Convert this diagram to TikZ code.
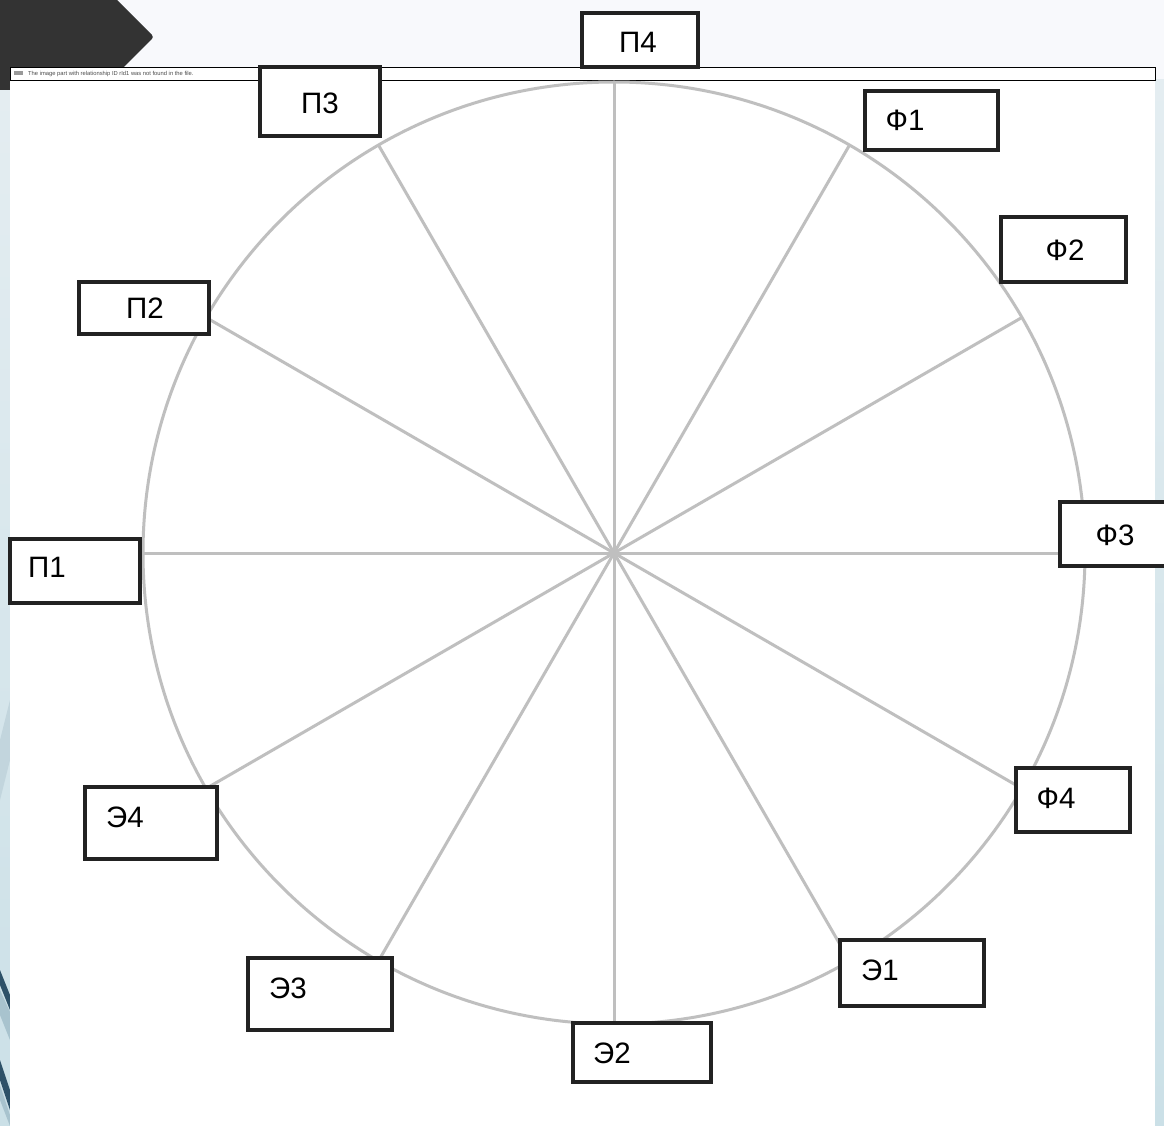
\documentclass[tikz,border=0pt]{standalone}
\usepackage{fontspec}
\setmainfont{Liberation Sans}
\definecolor{bgtop}{HTML}{F8F9FC}
\definecolor{stripL}{HTML}{E4EDF1}
\definecolor{stripD}{HTML}{CBE0E7}
\definecolor{darkstripe}{HTML}{2D5168}
\definecolor{midstripe}{HTML}{A8C3CE}
\definecolor{chev}{HTML}{333333}
\definecolor{ring}{HTML}{BFBFBF}
\definecolor{boxline}{HTML}{222222}
\tikzset{
  lbox/.style={draw=boxline, line width=3.1pt, fill=white, rectangle, inner sep=0pt},
  ltext/.style={font=\fontsize{29.5}{34}\selectfont, inner sep=0pt, anchor=base},
  spoke/.style={draw=ring, line width=3pt},
}
\begin{document}
\begin{tikzpicture}[x=1pt,y=-1pt]
\useasboundingbox (0,0) rectangle (1164,1126);
% background
\fill[bgtop] (0,0) rectangle (1164,1126);
\shade[top color=stripL, bottom color=stripD] (0,90) rectangle (10,1126);
\shade[top color=stripL, bottom color=stripD] (1155,80) rectangle (1164,1126);
\begin{scope}
  \clip (0,90) rectangle (10,1126);
  \fill[midstripe!70] (0,740) -- (10,700) -- (10,760) -- (0,800) -- cycle;
  \fill[darkstripe] (0,970) -- (10,995) -- (10,1010) -- (0,985) -- cycle;
  \fill[midstripe] (0,990) -- (10,1012) -- (10,1040) -- (0,1015) -- cycle;
  \fill[darkstripe] (0,1060) -- (10,1090) -- (10,1110) -- (0,1080) -- cycle;
  \fill[midstripe] (0,1085) -- (10,1115) -- (10,1126) -- (0,1100) -- cycle;
\end{scope}
% dark chevron
\fill[chev] (0,0) -- (117,0) [rounded corners=3pt] -- (154,37) [sharp corners] -- (101,90) -- (0,90) -- cycle;
% white slide area
\fill[white] (10,80) rectangle (1155,1126);
% broken image bar
\node[draw=black, line width=1.2pt, fill=white, rectangle, inner sep=0pt,
      minimum width=1145pt, minimum height=13pt, anchor=north west] (bar) at (10,67) {};
\fill[gray!80] (14,71) rectangle (23,75);
\node[anchor=west, inner sep=0pt, font=\fontsize{5.8}{6}\selectfont, text=black!70] (bartext) at (28,74)
  {The image part with relationship ID rId1 was not found in the file.};
% circle and spokes
\coordinate (c) at (614,553);
\draw[spoke] (c) circle[radius=471pt];
\foreach \a in {0,30,...,330} {
  \draw[spoke] (c) -- ++(\a:471pt);
}
% boxes
\node[lbox, minimum width=116pt, minimum height=54pt] (bP4) at (640,40) {};
\node[lbox, minimum width=120pt, minimum height=69pt] (bP3) at (320,101.5) {};
\node[lbox, minimum width=133pt, minimum height=59pt] (bF1) at (931.5,120.5) {};
\node[lbox, minimum width=125pt, minimum height=65pt] (bF2) at (1063.5,249.5) {};
\node[lbox, minimum width=130pt, minimum height=52pt] (bP2) at (144,308) {};
\node[lbox, minimum width=130pt, minimum height=64pt] (bP1) at (75,571) {};
\node[lbox, minimum width=112pt, minimum height=64pt] (bF3) at (1116,534) {};
\node[lbox, minimum width=114pt, minimum height=64pt] (bF4) at (1073,800) {};
\node[lbox, minimum width=132pt, minimum height=72pt] (bE4) at (151,823) {};
\node[lbox, minimum width=144pt, minimum height=66pt] (bE1) at (912,973) {};
\node[lbox, minimum width=144pt, minimum height=72pt] (bE3) at (320,994) {};
\node[lbox, minimum width=138pt, minimum height=59pt] (bE2) at (642,1052.5) {};
% labels
\node[ltext] (tP4) at (638,52.5) {П4};
\node[ltext] (tP3) at (320,113.5) {П3};
\node[ltext] (tF1) at (905,130.5) {Ф1};
\node[ltext] (tF2) at (1065,260.5) {Ф2};
\node[ltext] (tP2) at (145,318.5) {П2};
\node[ltext] (tP1) at (47,577.5) {П1};
\node[ltext] (tF3) at (1115,545.5) {Ф3};
\node[ltext] (tF4) at (1056,808.5) {Ф4};
\node[ltext] (tE4) at (125,827.5) {Э4};
\node[ltext] (tE1) at (880,980.5) {Э1};
\node[ltext] (tE3) at (288,998.5) {Э3};
\node[ltext] (tE2) at (612,1063.5) {Э2};
\end{tikzpicture}
\end{document}
